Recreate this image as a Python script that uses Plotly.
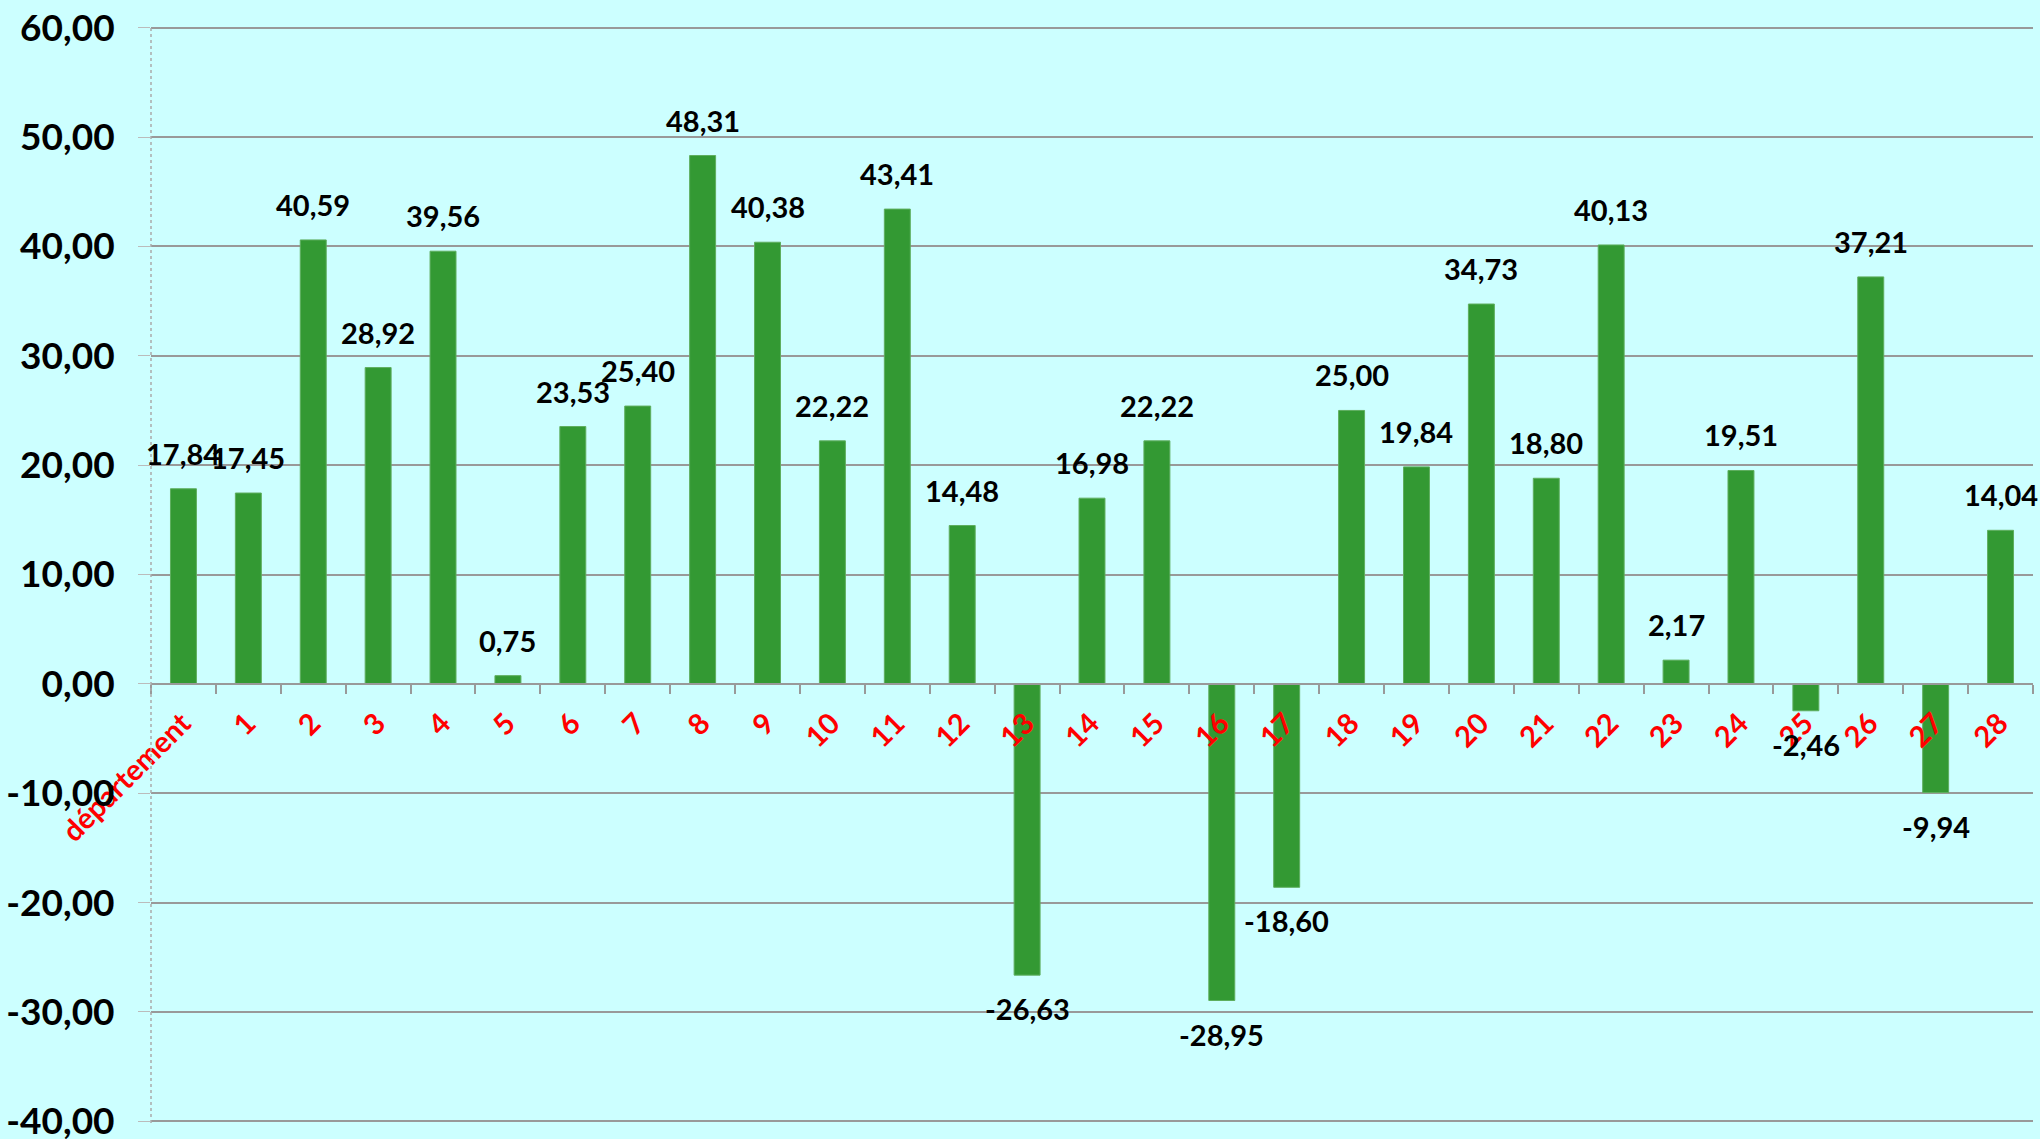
import plotly.graph_objects as go

# categories and values
categories = ["département"] + [str(i) for i in range(1, 29)]
values = [17.84, 17.45, 40.59, 28.92, 39.56, 0.75, 23.53, 25.40, 48.31, 40.38,
          22.22, 43.41, 14.48, -26.63, 16.98, 22.22, -28.95, -18.60, 25.00, 19.84,
          34.73, 18.80, 40.13, 2.17, 19.51, -2.46, 37.21, -9.94, 14.04]
y_ticks = [-40, -30, -20, -10, 0, 10, 20, 30, 40, 50, 60]


def fr(v):
    return f"{v:.2f}".replace(".", ",")


fig = go.Figure()
fig.add_trace(go.Bar(
    x=categories, y=values,
    marker=dict(color="#339933", line=dict(color="#5fae5f", width=1)),
    hoverinfo="x+y",
))

# data labels above positive bars, below negative ones
for c, v in zip(categories, values):
    fig.add_annotation(
        x=c, y=v, text=fr(v), showarrow=False,
        yanchor="bottom" if v >= 0 else "top",
        yshift=16 if v >= 0 else -14,
        font=dict(family="Lato", size=29, color="black", weight="bold"),
    )

# dotted vertical axis line
fig.add_shape(type="line", xref="x domain", yref="y domain",
              x0=0, x1=0, y0=0, y1=1,
              line=dict(color="#aaaaaa", width=1.5, dash="dot"))

# range padded a hair so plotly keeps the -40 and 60 gridlines
y_lo, y_hi = -40.15, 60.15

fig.update_layout(
    width=2040, height=1139,
    margin=dict(l=151, r=7, t=26, b=16, autoexpand=False),
    paper_bgcolor="#ccffff", plot_bgcolor="#ccffff",
    bargap=0.6,
    showlegend=False,
    font=dict(family="Lato"),
    xaxis=dict(
        type="category", automargin=False,
        range=[-0.5, len(categories) - 0.5],
        anchor="free", position=(0 - y_lo) / (y_hi - y_lo),
        showline=True, linecolor="#999999", linewidth=2,
        ticks="outside", tickson="boundaries", ticklen=9, tickcolor="#999999", tickwidth=2,
        tickangle=-45, ticklabelstandoff=10, ticklabelshift=-1,
        tickfont=dict(family="Lato", size=29, color="red", weight="bold"),
        showgrid=False,
    ),
    yaxis=dict(
        range=[y_lo, y_hi], automargin=False,
        tickvals=y_ticks, ticktext=[fr(t) for t in y_ticks],
        showgrid=True, gridcolor="#999999", gridwidth=2,
        zeroline=False,
        ticks="outside", ticklen=12, tickcolor="#bbbbbb", tickwidth=1,
        ticklabelstandoff=16, ticklabeloverflow="allow",
        tickfont=dict(family="Lato", size=37, color="black", weight="bold"),
    ),
)

fig.write_html("out.html", config={"displayModeBar": False},
               post_script="document.body.style.margin='0';")
